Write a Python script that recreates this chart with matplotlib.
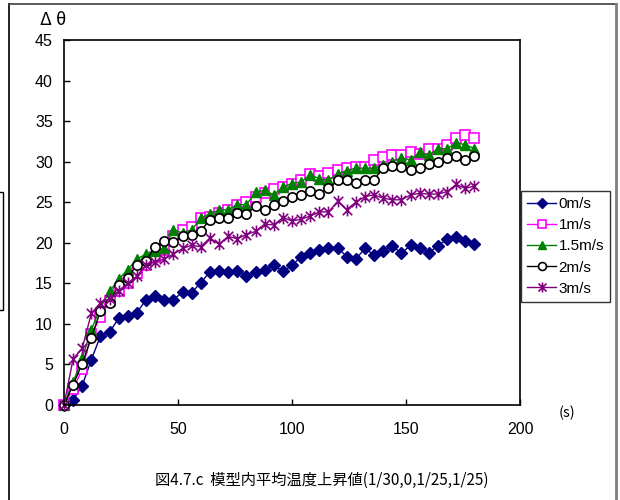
import matplotlib
matplotlib.use("Agg")
import matplotlib.pyplot as plt
from matplotlib.path import Path
from matplotlib.lines import Line2D
from matplotlib.patches import Rectangle

plt.rcParams['font.family'] = ['Liberation Sans', 'DejaVu Sans']

time_s = list(range(0, 181, 4))
labels = ["0m/s", "1m/s", "1.5m/s", "2m/s", "3m/s"]

v_0 = [0, 0.6, 2.4, 5.6, 8.5, 9.0, 10.7, 11.0, 11.4, 13.0, 13.4, 13.0, 13.0, 13.9,
       13.85, 15.1, 16.4, 16.5, 16.4, 16.5, 15.9, 16.4, 16.7, 17.2, 16.5, 17.2, 18.3,
       18.7, 19.1, 19.4, 19.4, 18.3, 18.0, 19.3, 18.5, 19.0, 19.6, 18.7, 19.7, 19.3,
       18.8, 19.6, 20.5, 20.7, 20.2, 19.8]
v_1 = [0, 2.0, 4.4, 8.7, 10.8, 12.8, 14.0, 15.0, 16.3, 17.2, 18.3, 19.1, 20.8, 21.6,
       22.0, 23.0, 23.2, 23.7, 24.1, 24.7, 25.0, 25.7, 26.1, 26.6, 26.9, 27.3, 27.7,
       28.5, 28.2, 28.6, 29.0, 29.2, 29.4, 29.4, 30.2, 30.6, 30.8, 30.8, 31.2, 31.0,
       31.6, 31.6, 32.1, 32.9, 33.3, 32.9]
v_15 = [0, 2.8, 5.8, 9.3, 12.0, 14.0, 15.5, 16.7, 18.0, 18.6, 19.0, 19.3, 21.6, 21.2,
        21.6, 23.0, 23.6, 24.0, 24.1, 24.7, 24.7, 26.2, 26.5, 25.9, 26.9, 27.3, 27.5,
        28.4, 27.9, 27.7, 28.5, 28.9, 29.2, 29.2, 29.2, 29.6, 30.0, 30.5, 30.2, 31.2,
        30.8, 31.6, 31.6, 32.3, 32.1, 31.6]
v_2 = [0, 2.5, 5.1, 8.3, 11.6, 12.6, 14.8, 15.7, 17.3, 17.8, 19.5, 20.2, 20.1, 20.8,
       20.9, 21.5, 22.8, 23.0, 23.1, 23.7, 23.6, 24.5, 24.1, 24.6, 25.1, 25.7, 25.9,
       26.4, 26.0, 26.7, 27.7, 27.7, 27.4, 27.8, 27.8, 29.2, 29.5, 29.3, 29.0, 29.2,
       29.7, 30.0, 30.5, 30.7, 30.2, 30.7]
v_3 = [0, 5.7, 7.0, 11.3, 12.6, 13.1, 14.1, 15.0, 15.9, 17.3, 17.6, 18.0, 18.6, 19.3,
       19.7, 19.5, 20.6, 19.8, 20.8, 20.5, 21.0, 21.4, 22.3, 22.2, 23.1, 22.7, 22.9,
       23.3, 23.8, 23.8, 25.1, 24.1, 25.0, 25.7, 25.9, 25.5, 25.3, 25.3, 25.9, 26.1,
       26.0, 26.0, 26.3, 27.2, 26.7, 27.0]

x_ticks = [0, 50, 100, 150, 200]
y_ticks = [0, 5, 10, 15, 20, 25, 30, 35, 40, 45]
caption = "図4.7.c  模型内平均温度上昇値(1/30,0,1/25,1/25)"

star = Path([(0, -1), (0, 1), (-0.8, -0.8), (0.8, 0.8), (-0.8, 0.8), (0.8, -0.8)],
            [Path.MOVETO, Path.LINETO, Path.MOVETO, Path.LINETO, Path.MOVETO, Path.LINETO])

W, H = 620, 500
fig = plt.figure(figsize=(6.2, 5.0), dpi=100)
ax = fig.add_axes([64 / W, 1 - 405 / H, (520 - 64) / W, (405 - 40) / H])

styles = [
    dict(color="#000080", marker="D", ms=5.8, mfc="#000080", mec="#000080"),
    dict(color="#FF00FF", marker="s", ms=6.7, mfc="white", mec="#FF00FF", mew=1.2),
    dict(color="#008000", marker="^", ms=7.2, mfc="#008000", mec="#008000"),
    dict(color="black", marker="o", ms=6.7, mfc="white", mec="black", mew=1.2),
    dict(color="#800080", marker=star, ms=8.5, mfc="#800080", mec="#800080", mew=1.2),
]
series = [v_0, v_1, v_15, v_2, v_3]
for vals, lab, st in zip(series, labels, styles):
    ax.plot(time_s, vals, lw=1.0, label=lab, clip_on=False, **st)

ax.set_xlim(0, 200)
ax.set_ylim(0, 45)
ax.set_xticks(x_ticks)
ax.set_yticks(y_ticks)
ax.tick_params(direction="in", length=4, width=1, labelsize=11.5, colors="black")
ax.tick_params(axis="x", pad=12)
ax.tick_params(axis="y", pad=8)
for sp in ax.spines.values():
    sp.set_linewidth(1.2)
    sp.set_color("black")

leg_handles = []
for st in styles:
    s = dict(st)
    s["ms"] = st["ms"] * 0.85
    leg_handles.append(Line2D([], [], lw=1.0, **s))

leg = fig.legend(handles=leg_handles, labels=labels, loc="upper left",
                 bbox_to_anchor=(521 / W, 1 - 191 / H), fancybox=False,
                 frameon=True, edgecolor="black", fontsize=11, handlelength=1.9,
                 handletextpad=0.15, labelspacing=0.47, borderpad=0.4,
                 borderaxespad=0)
leg.get_frame().set_linewidth(1.0)

fig.text(40 / W, 1 - 20 / H, "Δ θ", fontsize=13, va="center", ha="left",
         family=["Noto Sans CJK JP", "DejaVu Sans"])
fig.text(567 / W, 1 - 413 / H, "(s)", fontsize=10.5, va="center", ha="center",
         family=["Noto Sans CJK JP", "DejaVu Sans"])
fig.text(322 / W, 1 - 480 / H, caption, fontsize=11, va="center", ha="center",
         family=["Noto Sans CJK JP", "DejaVu Sans"])

# outer frame lines
fig.add_artist(Line2D([9 / W, 9 / W], [0, 1 - 4 / H], color="black", lw=1.2,
                      transform=fig.transFigure))
fig.add_artist(Line2D([9 / W, 617 / W], [1 - 4 / H, 1 - 4 / H], color="#404040", lw=1.2,
                      transform=fig.transFigure))
fig.add_artist(Line2D([616 / W, 616 / W], [0, 1 - 4 / H], color="#808080", lw=2.0,
                      transform=fig.transFigure))
fig.add_artist(Rectangle((-5 / W, 1 - 310 / H), 8 / W, 118 / H, fill=False,
                         edgecolor="black", lw=1.0, transform=fig.transFigure))

fig.savefig("out.png", dpi=100)
